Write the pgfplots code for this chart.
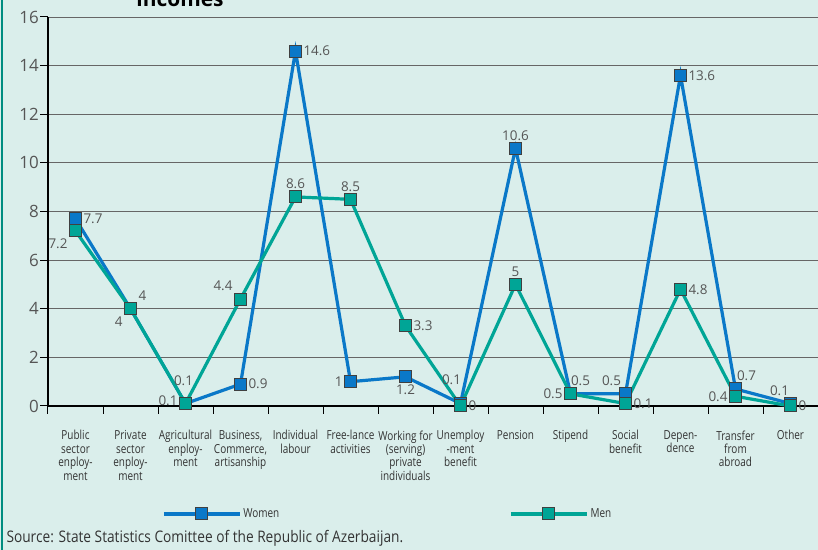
\documentclass[border=0pt]{standalone}
\usepackage{pgfplots}
\pgfplotsset{compat=1.18}
\usepackage{fontspec}
\setmainfont{Open Sans}
\newfontfamily\cond{Open Sans}[FakeStretch=0.8]
\newfontfamily\condb{Open Sans}[FakeStretch=0.86]
\definecolor{bg}{RGB}{218,238,235}
\definecolor{wom}{RGB}{10,120,200}
\definecolor{men}{RGB}{0,165,150}
\definecolor{lab}{RGB}{85,85,85}
\pgfplotsset{lbl/.style n args={3}{draw=none, mark=none, forget plot, nodes near coords,
  point meta=explicit symbolic,
  every node near coord/.append style={font=\fontsize{13.5}{13.5}\selectfont,
    text=lab, inner sep=1bp, outer sep=7bp, anchor=#1, xshift=#2, yshift=#3}}}

\begin{document}
\begin{tikzpicture}
\fill[bg] (0,0) rectangle (818bp,550bp);
\path[use as bounding box] (0,0) rectangle (818bp,550bp);
\draw[men!85!black, line width=1.5bp] (2bp,0)--(2bp,550bp);
\node[font=\bfseries\fontsize{21}{21}\selectfont, anchor=base] at (180bp,543bp) {incomes};
\begin{axis}[
  at={(48bp,144bp)}, anchor=south west,
  scale only axis, width=770bp, height=389bp,
  xmin=-0.5, xmax=13.5, ymin=0, ymax=16,
  axis x line=bottom, axis y line=left,
  axis line style={-, black, line width=1.3bp},
  xtick={-0.5,0.5,...,13.5}, xticklabels={},
  ytick={0,2,...,16},
  tick align=outside, major tick length=8bp,
  tick style={black, line width=1bp},
  ymajorgrids, grid style={black!60, line width=0.9bp},
  yticklabel style={font=\fontsize{17}{17}\selectfont, text=lab, inner sep=1bp},
  /pgf/number format/assume math mode=true,
  extra x ticks={0,...,13},
  extra x tick labels={
    {Public\\sector\\enploy-\\ment},
    {Private\\sector\\enploy-\\ment},
    {Agricultural\\enploy-\\ment},
    {Business,\\Commerce,\\artisanship},
    {Individual\\labour},
    {Free-lance\\activities},
    {Working for\\(serving)\\private\\individuals},
    {Unemploy\\-ment\\benefit},
    {Pension},
    {Stipend},
    {Social\\benefit},
    {Depen-\\dence},
    {Transfer\\from\\abroad},
    {Other}},
  extra x tick style={major tick length=0pt,
    xticklabel style={align=center, anchor=north, yshift=-21bp,
      font=\cond\fontsize{12.5}{13.5}\selectfont, text=black!80}},
  clip=false,
  legend columns=2,
  legend style={at={(axis description cs:0.148,-0.2776)}, anchor=west,
    draw=none, fill=none, inner sep=0pt,
    font=\cond\fontsize{12.5}{12.5}\selectfont, text=black!80,
    /tikz/every even column/.append style={column sep=228bp}},
  legend image code/.code={\draw[#1, mark repeat=2, mark phase=2] plot coordinates {(0bp,0bp) (38bp,0bp) (76bp,0bp)};},
]
\addplot[wom, line width=3.2bp, mark=square*, mark size=6bp,
  mark options={fill=wom, draw=black!75, line width=1bp}]
  coordinates {(0,7.7) (1,4) (2,0.1) (3,0.9) (4,14.6) (5,1) (6,1.2) (7,0.1)
    (8,10.6) (9,0.5) (10,0.5) (11,13.6) (12,0.7) (13,0.1)};
\addlegendentry{Women}
\addplot[men, line width=3.2bp, mark=square*, mark size=6bp,
  mark options={fill=men, draw=black!75, line width=1bp}]
  coordinates {(0,7.2) (1,4) (2,0.1) (3,4.4) (4,8.6) (5,8.5) (6,3.3) (7,0)
    (8,5) (9,0.5) (10,0.1) (11,4.8) (12,0.4) (13,0)};
\addlegendentry{Men}
% data labels grouped by position
\addplot[lbl={west}{0bp}{0bp}] coordinates {(0,7.7)[7.7] (3,0.9)[0.9] (4,14.6)[14.6] (11,13.6)[13.6]
  (6,3.3)[3.3] (7,0)[0] (10,0.1)[0.1] (11,4.8)[4.8] (13,0)[0]};
\addplot[lbl={east}{0bp}{0bp}] coordinates {(5,1)[1] (9,0.5)[0.5] (12,0.4)[0.4]};
\addplot[lbl={east}{0bp}{3bp}] coordinates {(2,0.1)[0.1]};
\addplot[lbl={south}{0bp}{0bp}] coordinates {(8,10.6)[10.6] (4,8.6)[8.6] (5,8.5)[8.5] (8,5)[5]};
\addplot[lbl={south}{-2bp}{10bp}] coordinates {(2,0.1)[0.1]};
\addplot[lbl={south}{-9bp}{11bp}] coordinates {(7,0.1)[0.1]};
\addplot[lbl={south}{10bp}{0bp}] coordinates {(9,0.5)[0.5]};
\addplot[lbl={south}{-14bp}{0bp}] coordinates {(10,0.5)[0.5]};
\addplot[lbl={south}{11bp}{0bp}] coordinates {(12,0.7)[0.7]};
\addplot[lbl={south}{-11bp}{0bp}] coordinates {(13,0.1)[0.1]};
\addplot[lbl={north}{0bp}{0bp}] coordinates {(6,1.2)[1.2]};
\addplot[lbl={south west}{0bp}{0bp}] coordinates {(1,4)[4]};
\addplot[lbl={south east}{0bp}{0bp}] coordinates {(3,4.4)[4.4]};
\addplot[lbl={north east}{0bp}{0bp}] coordinates {(0,7.2)[7.2] (1,4)[4]};
\end{axis}
\node[anchor=west, font=\condb\fontsize{16}{16}\selectfont, text=black!80] at (3bp,12bp) {Source: State Statistics Comittee of the Republic of Azerbaijan.};
\end{tikzpicture}
\end{document}
